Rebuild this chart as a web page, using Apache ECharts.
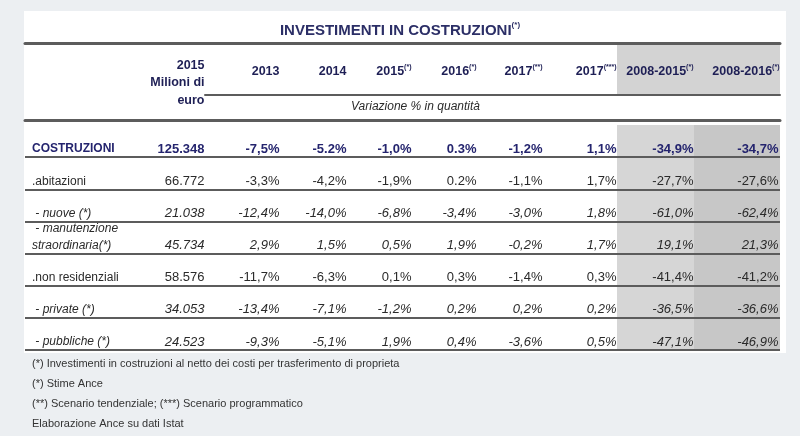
<!DOCTYPE html>
<html><head><meta charset="utf-8">
<script src="https://cdn.jsdelivr.net/npm/echarts@6/dist/echarts.min.js"></script>
<style>html,body{margin:0;padding:0;background:#eceff2}#c{width:800px;height:436px}</style>
</head><body><div id="c"></div>
<script>
// ---------- data ----------
const chartTitle = 'INVESTIMENTI IN COSTRUZIONI';
const chartTitleNote = '(*)';
const rowLabels = ['COSTRUZIONI', '.abitazioni', ' - nuove (*)', ' - manutenzione\nstraordinaria(*)', '.non residenziali', ' - private (*)', ' - pubbliche (*)'];
const rowKinds = ['total', 'main', 'sub', 'sub', 'main', 'sub', 'sub'];
const milioniHeader = ['2015', 'Milioni di', 'euro'];
const milioni2015 = ['125.348', '66.772', '21.038', '45.734', '58.576', '34.053', '24.523'];
const var2013 = ['-7,5%', '-3,3%', '-12,4%', '2,9%', '-11,7%', '-13,4%', '-9,3%'];
const var2014 = ['-5.2%', '-4,2%', '-14,0%', '1,5%', '-6,3%', '-7,1%', '-5,1%'];
const var2015 = ['-1,0%', '-1,9%', '-6,8%', '0,5%', '0,1%', '-1,2%', '1,9%'];
const var2016 = ['0.3%', '0.2%', '-3,4%', '1,9%', '0,3%', '0,2%', '0,4%'];
const var2017t = ['-1,2%', '-1,1%', '-3,0%', '-0,2%', '-1,4%', '0,2%', '-3,6%'];
const var2017p = ['1,1%', '1,7%', '1,8%', '1,7%', '0,3%', '0,2%', '0,5%'];
const var20082015 = ['-34,9%', '-27,7%', '-61,0%', '19,1%', '-41,4%', '-36,5%', '-47,1%'];
const var20082016 = ['-34,7%', '-27,6%', '-62,4%', '21,3%', '-41,2%', '-36,6%', '-46,9%'];
const columnYears = ['2013', '2014', '2015', '2016', '2017', '2017', '2008-2015', '2008-2016'];
const columnNotes = ['', '', '(*)', '(*)', '(**)', '(***)', '(*)', '(*)'];
const columnValues = [var2013, var2014, var2015, var2016, var2017t, var2017p, var20082015, var20082016];
const subHeader = 'Variazione % in quantità';
const footnotes = [
  '(*) Investimenti in costruzioni al netto dei costi per trasferimento di proprieta',
  '(*) Stime Ance',
  '(**) Scenario tendenziale; (***) Scenario programmatico',
  'Elaborazione Ance su dati Istat'
];

// ---------- layout / style ----------
const W = 800, H = 436;
const TOP = 125, BOTTOM = 86;
const colEdges = [140, 205, 280, 347, 412, 477, 543, 617, 694, 780];
const shade = {7: '#d6d6d6', 8: '#c7c7c7'};   // column index -> body shading
const SANS = "'Liberation Sans', Arial, sans-serif";
const NAVY = '#24246e', HEAD = '#1e1f55', TXT = '#2a2a2a', RULE = '#5c5c5c';

const grids = [], xAxes = [], yAxes = [], series = [];

// frame grid (row labels, row rules, header rules)
grids.push({left: 25, right: W - 780, top: TOP, bottom: BOTTOM});
xAxes.push({
  gridIndex: 0, type: 'category', data: [''], position: 'top', offset: 5,
  axisLine: {show: true, lineStyle: {color: RULE, width: 3}}, axisTick: {show: false}, axisLabel: {show: false},
  name: subHeader, nameLocation: 'middle', nameGap: 7,
  nameTextStyle: {fontFamily: SANS, fontStyle: 'italic', fontSize: 12, color: TXT, padding: [0, 0, 0, 26]}
});
xAxes.push({
  gridIndex: 0, type: 'category', data: [''], position: 'top', offset: 82,
  axisLine: {show: true, lineStyle: {color: RULE, width: 3}}, axisTick: {show: false}, axisLabel: {show: false}
});
const kindStyle = {
  total: {fontFamily: SANS, fontWeight: 'bold', fontStyle: 'normal', fontSize: 12, color: NAVY},
  main: {fontFamily: SANS, fontWeight: 'normal', fontStyle: 'normal', fontSize: 12, color: TXT},
  sub: {fontFamily: SANS, fontWeight: 'normal', fontStyle: 'italic', fontSize: 12, color: TXT}
};
const labelRich = {};
Object.keys(kindStyle).forEach(k => {
  labelRich[k] = Object.assign({padding: [16, 0, 0, 0], lineHeight: 14}, kindStyle[k]);
  labelRich[k + '2'] = Object.assign({lineHeight: 17}, kindStyle[k]);
});
yAxes.push({
  gridIndex: 0, type: 'category', inverse: true, data: rowLabels,
  axisLine: {show: false}, axisTick: {show: false},
  splitLine: {show: true, showMinLine: false, lineStyle: {color: RULE, width: 2}},
  axisLabel: {
    inside: true, margin: 7, align: 'left', interval: 0,
    formatter: (v, i) => {
      const lines = v.split('\n');
      const k = rowKinds[i];
      if (lines.length > 1) return lines.map(l => '{' + k + '2|' + l + '}').join('\n');
      return '{' + k + '|' + v + '}';
    },
    rich: labelRich
  }
});

// one grid per numeric column
const allCols = [milioni2015].concat(columnValues);
allCols.forEach((vals, c) => {
  const gi = c + 1;
  const left = colEdges[c], right = colEdges[c + 1];
  const w = right - left;
  const isMil = c === 0;
  const g = {left: left, right: W - right, top: TOP, bottom: BOTTOM};
  if (shade[c]) { g.show = true; g.backgroundColor = shade[c]; g.borderWidth = 0; }
  grids.push(g);
  const headRich = {
    h: {fontFamily: SANS, fontWeight: 'bold', fontSize: 12.5, color: HEAD, align: 'right', lineHeight: isMil ? 17.5 : 15},
    s: {fontFamily: SANS, fontWeight: 'bold', fontSize: 7, color: HEAD, align: 'right', verticalAlign: 'top', lineHeight: 15}
  };
  const xi = xAxes.length;
  xAxes.push({
    gridIndex: gi, type: 'category', position: 'top',
    data: [isMil ? milioniHeader.join('\n') : columnYears[c - 1]],
    offset: isMil ? 0 : 30,
    axisLine: {show: !isMil, lineStyle: {color: RULE, width: 2}},
    axisTick: {show: false},
    axisLabel: {
      interval: 0, margin: 16, width: w - 1, overflow: 'none', align: 'center',
      formatter: (v) => isMil ? v.split('\n').map(l => '{h|' + l + '}').join('\n')
                             : '{h|' + v + '}' + (columnNotes[c - 1] ? '{s|' + columnNotes[c - 1] + '}' : ''),
      rich: headRich
    }
  });
  const yi = yAxes.length;
  yAxes.push({gridIndex: gi, type: 'category', inverse: true, data: rowLabels, show: false});
  series.push({
    type: 'scatter', xAxisIndex: xi, yAxisIndex: yi, symbolSize: 1, silent: true,
    itemStyle: {color: 'rgba(0,0,0,0)', opacity: 1},
    data: vals.map((v, r) => ({
      value: [0, r, v],
      label: Object.assign({}, kindStyle[rowKinds[r]], {fontSize: 13})
    })),
    label: {
      show: true, position: 'right', distance: 0, align: 'right', verticalAlign: 'middle',
      textBorderWidth: 0, opacity: 1,
      offset: [w / 2 - (c === 8 ? 2 : 1), 8],
      formatter: p => p.value[2]
    }
  });
});

const chart = echarts.init(document.getElementById('c'), null, {renderer: 'canvas'});
chart.setOption({
  animation: false,
  backgroundColor: '#eceff2',
  title: [
    {
      text: '{t|' + chartTitle + '}{s|' + chartTitleNote + '}', left: 'center', top: 21, padding: 0,
      textStyle: {rich: {
        t: {fontFamily: SANS, fontWeight: 'bold', fontSize: 15, color: '#2b2e66', lineHeight: 20},
        s: {fontFamily: SANS, fontWeight: 'bold', fontSize: 8, color: '#2b2e66', verticalAlign: 'top', lineHeight: 20}
      }}
    },
    {
      text: footnotes.join('\n'), left: 32, top: 354, padding: 0,
      textStyle: {fontFamily: SANS, fontWeight: 'normal', fontSize: 11, color: '#333', lineHeight: 20}
    }
  ],
  graphic: [
    {type: 'rect', z: -10, shape: {x: 24, y: 11, width: 762, height: 342}, style: {fill: '#ffffff'}},
    {type: 'rect', z: -5, shape: {x: 617, y: 44, width: 163, height: 50}, style: {fill: '#d3d3d3'}}
  ],
  grid: grids, xAxis: xAxes, yAxis: yAxes, series: series
});
</script></body></html>
